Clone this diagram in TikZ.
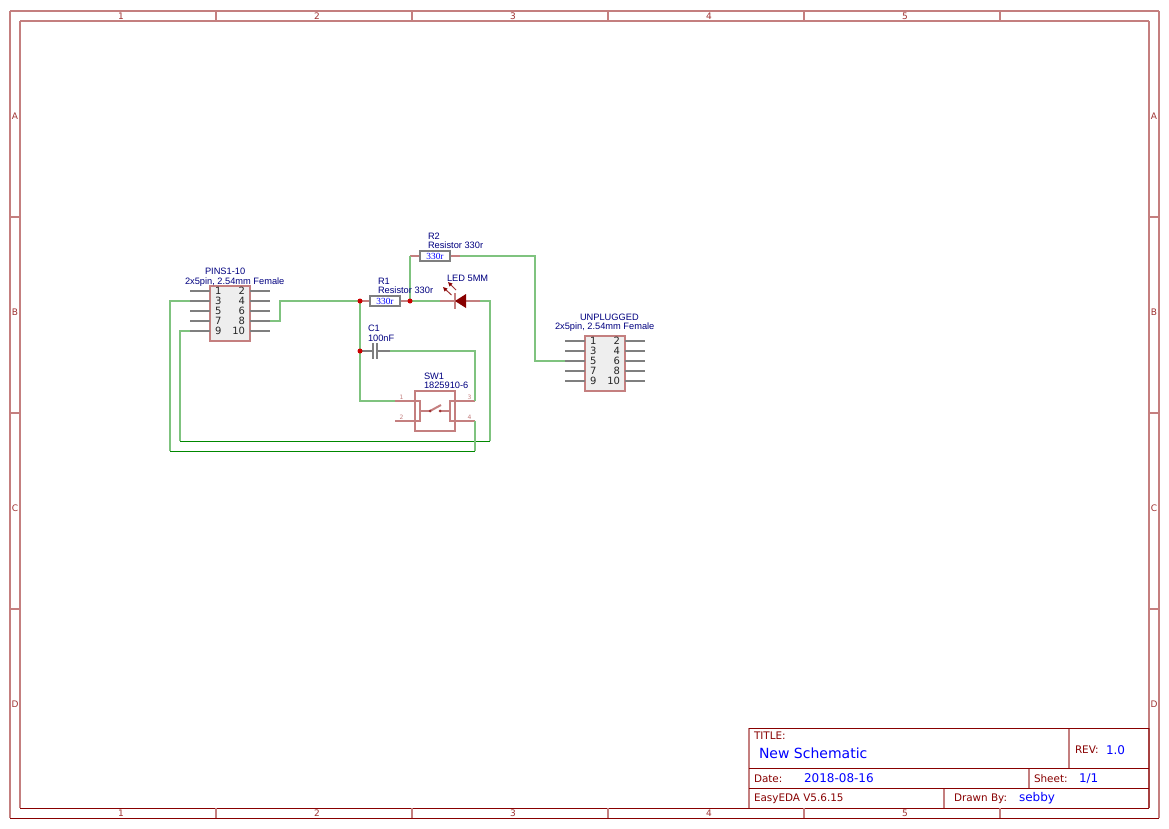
\documentclass[tikz,border=0pt]{standalone}
\usepackage{fontspec}
\setmainfont{DejaVu Sans}
\newfontfamily\lblfont{Liberation Sans}
\newfontfamily\valfont{Liberation Serif}
\definecolor{frame}{HTML}{880000}
\definecolor{framelt}{HTML}{C47F7F}
\definecolor{wirec}{HTML}{008800}
\definecolor{wirelt}{HTML}{7FC37F}
\definecolor{pinlt}{HTML}{7F7F7F}
\definecolor{lbl}{HTML}{000080}
\definecolor{blu}{HTML}{0000FF}
\definecolor{junc}{HTML}{CC0000}
\definecolor{boxfill}{HTML}{EEEEEE}
\tikzset{
  x=0.75pt,y=-0.75pt,
  every node/.style={inner sep=0pt,outer sep=0pt},
  frameline/.style={draw=framelt,line width=1.5pt,line cap=square},
  framecrisp/.style={draw=frame,line width=0.75pt},
  wire/.style={draw=wirelt,line width=1.5pt,line cap=square},
  wirecrisp/.style={draw=wirec,line width=0.75pt},
  pinline/.style={draw=pinlt,line width=1.5pt},
  redpin/.style={draw=framelt,line width=1.5pt},
  chipbox/.style={draw=framelt,fill=boxfill,line width=1.5pt,minimum width=30pt,minimum height=41.25pt},
  resbox/.style={draw=pinlt,fill=white,line width=1.5pt,minimum width=22.5pt,minimum height=7.5pt,font=\valfont\fontsize{7}{7}\selectfont,text=blu},
  swbox/.style={draw=framelt,line width=1.5pt,minimum width=30pt,minimum height=30pt},
  junction/.style={circle,fill=junc,minimum size=3.75pt},
  reflab/.style={anchor=west,font=\lblfont\fontsize{6.95}{7}\selectfont,text=lbl},
  pinnuml/.style={anchor=west,font=\fontsize{7.5}{8}\selectfont,text=black!85},
  pinnumr/.style={anchor=east,font=\fontsize{7.5}{8}\selectfont,text=black!85},
  swnum/.style={anchor=center,font=\fontsize{4.5}{5}\selectfont,text=framelt},
  edgelab/.style={anchor=center,font=\fontsize{6.75}{7}\selectfont,text=frame!80},
  tlab/.style={anchor=west,font=\fontsize{7.8}{8}\selectfont,text=frame},
  tval/.style={anchor=west,font=\fontsize{9}{10}\selectfont,text=blu},
}
\begin{document}
\begin{tikzpicture}
\useasboundingbox (0,0) rectangle (1169,828);
\fill[white] (0,0) rectangle (1169,828);

% sheet frame
\draw[frameline] (10,11) -- (1159,11);
\draw[frameline] (20,21) -- (1149,21);
\draw[frameline] (10,11) -- (10,818);
\draw[frameline] (20,21) -- (20,808);
\draw[frameline] (1149,21) -- (1149,808);
\draw[frameline] (1159,11) -- (1159,818);
\draw[framecrisp] (20,808) -- (1149,808);
\draw[framecrisp] (10,818) -- (1159,818);
\foreach \x in {216,412,608,804,1000}{
  \draw[frameline,line cap=butt] (\x,11) -- (\x,21);
  \draw[frameline,line cap=butt] (\x,808) -- (\x,818);
}
\foreach \y in {217,413,609}{
  \draw[frameline,line cap=butt] (10,\y) -- (20,\y);
  \draw[frameline,line cap=butt] (1149,\y) -- (1159,\y);
}
\foreach \n/\x in {1/121,2/317,3/513,4/709,5/905}{
  \node[edgelab] (top\n) at (\x,16) {\n};
  \node[edgelab] (bot\n) at (\x,813) {\n};
}
\foreach \n/\y in {A/116,B/312,C/508,D/704}{
  \node[edgelab] (left\n) at (15,\y) {\n};
  \node[edgelab] (right\n) at (1154,\y) {\n};
}

% title block
\draw[frameline,line cap=butt] (749,728) -- (749,808);
\draw[frameline,line cap=butt] (1069,728) -- (1069,768);
\draw[frameline,line cap=butt] (1029,768) -- (1029,788);
\draw[frameline,line cap=butt] (944,788) -- (944,808);
\draw[draw=frame!75,line width=1.5pt] (1149,728) -- (1149,808);
\draw[framecrisp] (749,728) -- (1149,728);
\draw[framecrisp] (749,768) -- (1149,768);
\draw[framecrisp] (749,788) -- (1149,788);
\node[tlab] (ttitle) at (754,735.5) {TITLE:};
\node[anchor=west,font=\fontsize{10.5}{11}\selectfont,text=blu] (tname) at (759,753) {New Schematic};
\node[tlab] (trev) at (1075,749.5) {REV:};
\node[tval] (trevv) at (1106,750) {1.0};
\node[tlab] (tdate) at (754,778.5) {Date:};
\node[tval] (tdatev) at (804,778) {2018-08-16};
\node[tlab] (tsheet) at (1034,778.5) {Sheet:};
\node[tval] (tsheetv) at (1079,778.5) {1/1};
\node[tlab] (teda) at (754,798.5) {EasyEDA V5.6.15};
\node[tlab] (tdrawn) at (954,798.5) {Drawn By:};
\node[tval] (tdrawnv) at (1019,798.5) {sebby};

% PINS1-10 connector
\node[chipbox] (pins) at (230,313.5) {};
\foreach \i/\y/\l/\r in {1/291/1/2,2/301/3/4,3/311/5/6,4/321/7/8,5/331/9/10}{
  \coordinate (pl\l) at (190,\y);
  \coordinate (pr\r) at (270,\y);
  \draw[pinline] (pl\l) -- (210,\y);
  \draw[pinline] (250,\y) -- (pr\r);
  \node[pinnuml] (plt\l) at (215,\y) {\l};
  \node[pinnumr] (prt\r) at (245,\y) {\r};
}

% UNPLUGGED connector
\node[chipbox] (unp) at (605,363.5) {};
\foreach \i/\y/\l/\r in {1/341/1/2,2/351/3/4,3/361/5/6,4/371/7/8,5/381/9/10}{
  \coordinate (ul\l) at (565,\y);
  \coordinate (ur\r) at (645,\y);
  \draw[pinline] (ul\l) -- (585,\y);
  \draw[pinline] (625,\y) -- (ur\r);
  \node[pinnuml] (ult\l) at (590,\y) {\l};
  \node[pinnumr] (urt\r) at (620,\y) {\r};
}

% R1
\coordinate (r1a) at (360,301);
\coordinate (r1b) at (410,301);
\draw[redpin] (r1a) -- (r1b);
\node[resbox] (r1) at (385,301) {330r};

% R2
\coordinate (r2a) at (410,256);
\coordinate (r2b) at (460,256);
\draw[redpin] (r2a) -- (r2b);
\node[resbox] (r2) at (435,256) {330r};

% LED
\coordinate (leda) at (440,301);
\coordinate (ledb) at (480,301);
\draw[redpin] (leda) -- (ledb);
\draw[framelt,line width=1.5pt] (455,293) -- (455,309);
\fill[frame] (455,301) -- (466,294) -- (466,308) -- cycle;
\draw[frame!80,line width=0.75pt] (451.5,295) -- (445,289);
\fill[frame] (443,287) -- (447.5,288.5) -- (444.5,291.5) -- cycle;
\draw[frame!80,line width=0.75pt] (456,290) -- (450,284);
\fill[frame] (448,282) -- (452.5,283.5) -- (449.5,286.5) -- cycle;

% C1
\coordinate (c1a) at (360,351);
\coordinate (c1b) at (390,351);
\draw[pinline] (c1a) -- (373,351);
\draw[pinline] (377,351) -- (c1b);
\draw[pinlt,line width=1.5pt] (373,343) -- (373,359);
\draw[pinlt,line width=1.5pt] (377,343) -- (377,359);

% SW1
\node[swbox] (sw) at (435,411) {};
\coordinate (s1) at (395,401);
\coordinate (s2) at (395,421);
\coordinate (s3) at (475,401);
\coordinate (s4) at (475,421);
\draw[redpin] (s1) -- (420,401) -- (420,421) -- (s2);
\draw[redpin] (s3) -- (450,401) -- (450,421) -- (s4);
\draw[redpin] (420,411) -- (430,411);
\draw[redpin] (430,411) -- (441,405);
\draw[redpin] (440,411) -- (450,411);
\fill[frame!80] (430,411) circle (1.5);
\fill[frame!80] (440,411) circle (1.5);
\node[swnum] (s1t) at (401.5,397.5) {1};
\node[swnum] (s2t) at (401.5,417.5) {2};
\node[swnum] (s3t) at (469.5,397.5) {3};
\node[swnum] (s4t) at (469.5,417.5) {4};

% wires
\coordinate (w81) at (280,321);
\coordinate (w82) at (280,301);
\draw[wire] (pr8) -- (w81) -- (w82) -- (r1a);
\coordinate (wsw) at (360,401);
\draw[wire] (r1a) -- (wsw) -- (s1);
\draw[wire] (r1b) -- (r2a);
\draw[wire] (r1b) -- (leda);
\coordinate (wr1) at (535,256);
\coordinate (wr2) at (535,361);
\draw[wire] (r2b) -- (wr1) -- (wr2) -- (ul5);
\coordinate (wl1) at (490,301);
\coordinate (wl2) at (490,441);
\coordinate (wl3) at (180,441);
\coordinate (wl4) at (180,331);
\draw[wire] (ledb) -- (wl1) -- (wl2);
\draw[wirecrisp] (wl2) -- (wl3);
\draw[wire] (wl3) -- (wl4) -- (pl9);
\coordinate (wp1) at (170,301);
\coordinate (wp2) at (170,451);
\coordinate (wp3) at (475,451);
\draw[wire] (pl3) -- (wp1) -- (wp2);
\draw[wirecrisp] (wp2) -- (wp3);
\draw[wire] (wp3) -- (s4);
\coordinate (wc1) at (475,351);
\draw[wire] (c1b) -- (wc1) -- (s3);

% junctions
\node[junction] (j1) at (r1a) {};
\node[junction] (j2) at (r1b) {};
\node[junction] (j3) at (c1a) {};

% reference labels, on top of everything
\node[reflab] (pinsref) at (205,271.5) {PINS1-10};
\node[reflab] (pinsval) at (185,282) {2x5pin, 2.54mm Female};
\node[reflab] (unpref) at (580,317) {UNPLUGGED};
\node[reflab] (unpval) at (555,327) {2x5pin, 2.54mm Female};
\node[reflab] (r1ref) at (378,281) {R1};
\node[reflab] (r1val) at (378,290) {Resistor 330r};
\node[reflab] (r2ref) at (428,236) {R2};
\node[reflab] (r2val) at (428,245) {Resistor 330r};
\node[reflab] (ledref) at (447,278) {LED 5MM};
\node[reflab] (c1ref) at (368,328) {C1};
\node[reflab] (c1val) at (368,338) {100nF};
\node[reflab] (swref) at (424,376) {SW1};
\node[reflab] (swval) at (424,385) {1825910-6};
\end{tikzpicture}
\end{document}
